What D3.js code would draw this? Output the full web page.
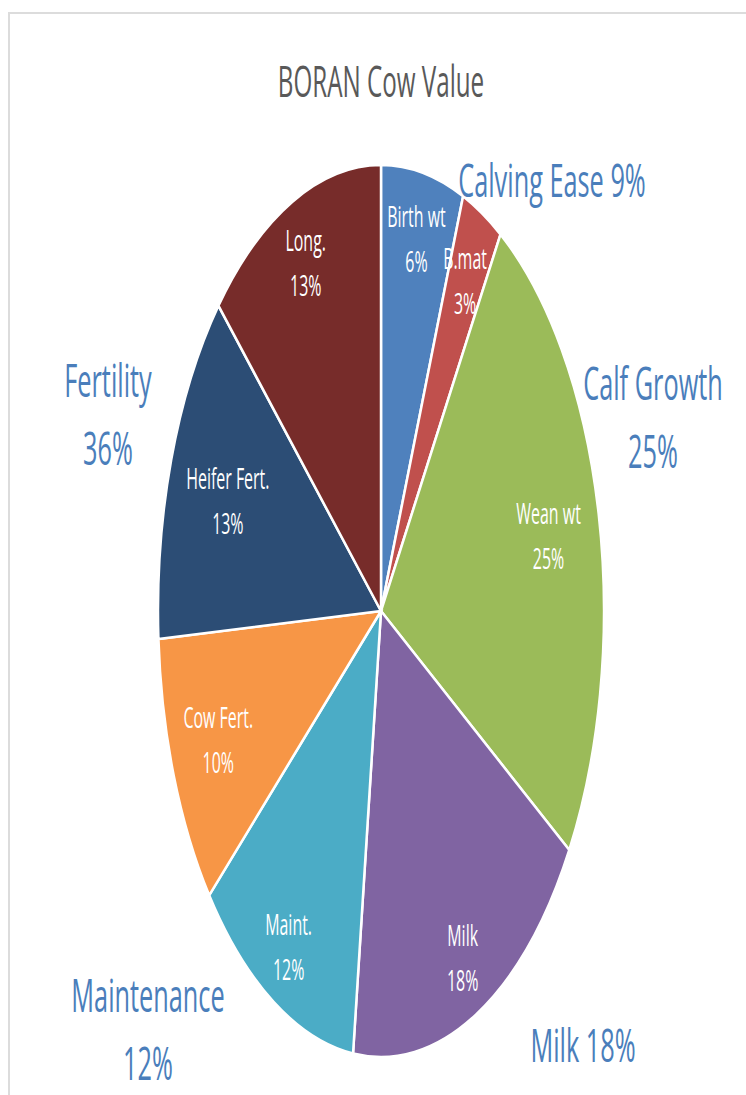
<!DOCTYPE html>
<html>
<head>
<meta charset="utf-8">
<script src="https://cdn.jsdelivr.net/npm/d3@7"></script>
<style>
  body { margin: 0; background: #fff; }
  svg { display: block; }
</style>
</head>
<body>
<svg id="chart"></svg>
<script>
// slices, clockwise from 12 o'clock
const sliceNames = ["Birth wt", "B.mat", "Wean wt", "Milk", "Maint.", "Cow Fert.", "Heifer Fert.", "Long."];
const sliceValues = [6, 3, 25, 18, 12, 10, 13, 13];
const sliceColors = ["#4f81bd", "#c0504d", "#9bbb59", "#8064a2", "#4bacc6", "#f79646", "#2c4d75", "#772c2a"];

// trait groups written round the pie
const groupNames = ["Calving Ease", "Calf Growth", "Milk", "Maintenance", "Fertility"];
const groupMembers = [["Birth wt", "B.mat"], ["Wean wt"], ["Milk"], ["Maint."], ["Cow Fert.", "Heifer Fert.", "Long."]];

const width = 746;
const height = 1095;
const cx = 381, cy = 611;
const ry = 446;          // vertical radius
const squash = 0.5;      // the picture is squeezed sideways
const textSquash = 0.55;
const blue = "#4a7ebb";

// how far out each inner label sits (fraction of radius)
const labelR = [0.85, 0.83, 0.77, 0.86, 0.86, 0.785, 0.73, 0.85];

// outer label spots: [x, y of first baseline, single line?]
const groupSpots = [[552, 197, true], [653, 400, false], [583, 1062, true], [148, 1012, false], [108, 397, false]];

const svg = d3.select("#chart")
    .attr("width", width)
    .attr("height", height)
    .attr("viewBox", [0, 0, width, height]);

// faint frame of the original screenshot
svg.append("rect")
    .attr("x", 9).attr("y", 13)
    .attr("width", width + 20).attr("height", height + 20)
    .attr("fill", "none")
    .attr("stroke", "#dcdcdc")
    .attr("stroke-width", 2);

const data = sliceNames.map((name, i) => ({ name, value: sliceValues[i], color: sliceColors[i], i }));

const pie = d3.pie().sort(null).value(d => d.value);
const arcs = pie(data);
const arc = d3.arc().innerRadius(0).outerRadius(ry);

const g = svg.append("g")
    .attr("transform", `translate(${cx},${cy}) scale(${squash},1)`);

g.selectAll("path")
    .data(arcs)
    .join("path")
    .attr("d", arc)
    .attr("fill", d => d.data.color)
    .attr("stroke", "#fff")
    .attr("stroke-width", 2.5)
    .attr("vector-effect", "non-scaling-stroke");

function squashedText(x, y, str, size, color) {
    svg.append("text")
        .attr("transform", `translate(${x},${y}) scale(${textSquash},1)`)
        .attr("text-anchor", "middle")
        .attr("font-family", "Open Sans, sans-serif")
        .attr("font-size", size)
        .attr("fill", color)
        .text(str);
}

// inner labels
arcs.forEach(d => {
    const a = (d.startAngle + d.endAngle) / 2;
    const f = labelR[d.data.i];
    const x = cx + f * ry * squash * Math.sin(a);
    const y = cy - f * ry * Math.cos(a);
    squashedText(x, y - 12, d.data.name, 29, "#fff");
    squashedText(x, y + 33, d.data.value + "%", 29, "#fff");
});

// title
squashedText(width / 2 + 8, 97, "BORAN Cow Value", 44, "#595959");

// outer group labels
groupNames.forEach((name, i) => {
    const total = d3.sum(groupMembers[i], m => sliceValues[sliceNames.indexOf(m)]);
    const [x, y, single] = groupSpots[i];
    if (single) {
        squashedText(x, y, `${name} ${total}%`, 46, blue);
    } else {
        squashedText(x, y, name, 46, blue);
        squashedText(x, y + 68, total + "%", 46, blue);
    }
});
</script>
</body>
</html>
